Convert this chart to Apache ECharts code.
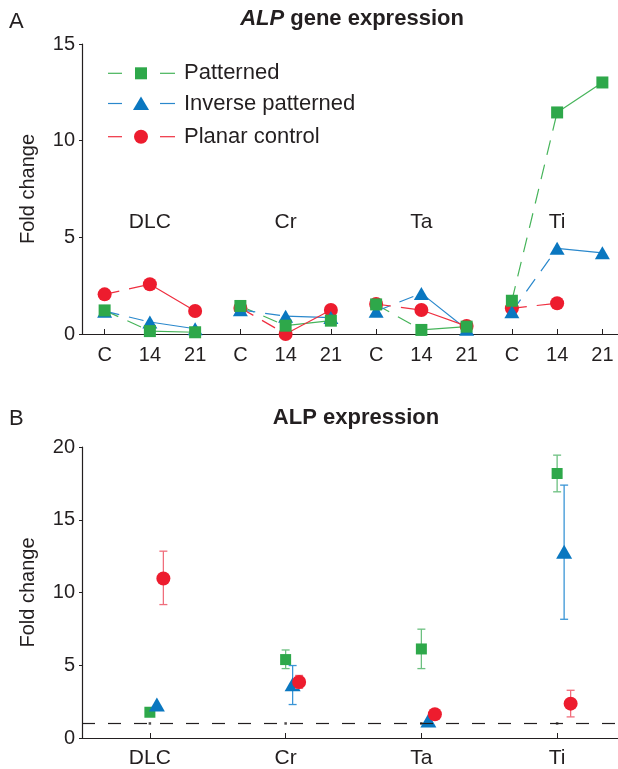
<!DOCTYPE html>
<html><head><meta charset="utf-8">
<script src="https://cdn.jsdelivr.net/npm/echarts@6/dist/echarts.min.js"></script>
<style>html,body{margin:0;padding:0;background:#fff}#c{width:618px;height:769px}</style>
</head><body><div id="c"></div>
<script>
// ---------- data ----------
const metals = ['DLC', 'Cr', 'Ta', 'Ti'];
const days = ['C', '14', '21'];
const seriesNames = ['Patterned', 'Inverse patterned', 'Planar control'];
const yTicksA = [0, 5, 10, 15];
const yTicksB = [0, 5, 10, 15, 20];

// Panel A: ALP gene expression (fold change), order DLC C/14/21, Cr C/14/21, Ta ..., Ti ...
const patternedA = [1.22, 0.15, 0.09, 1.45, 0.43, 0.69, 1.53, 0.21, 0.38, 1.72, 11.46, 13.01];
const inverseA   = [1.18, 0.62, 0.27, 1.25, 0.92, 0.85, 1.18, 2.10, 0.25, 1.15, 4.43, 4.20];
const planarA    = [2.05, 2.57, 1.19, 1.35, 0.00, 1.24, 1.55, 1.24, 0.41, 1.33, 1.59, null];

// Panel B: ALP expression (fold change) with error bars
const patternedB    = [1.77, 5.39, 6.12, 18.18];
const patternedBLow = [null, 4.77, 4.77, 16.92];
const patternedBHigh= [null, 6.05, 7.48, 19.44];
const inverseB      = [2.30, 3.70, 1.20, 12.80];
const inverseBLow   = [null, 2.30, null, 8.16];
const inverseBHigh  = [null, 4.98, null, 17.38];
const planarB       = [10.96, 3.85, 1.63, 2.36];
const planarBLow    = [9.17, 3.42, null, 1.45];
const planarBHigh   = [12.84, 4.30, null, 3.28];
const refLevel = 1;

// ---------- styles ----------
const FONT = "'Liberation Sans', Arial, Helvetica, sans-serif";
const TXT = '#231f20';
const markColors = ['#2ea84a', '#0a77c0', '#ed1c2e'];
const lineColors = ['#46b45a', '#2a88cc', '#ef2f40'];
const errColors  = ['#6cc080', '#3a95d6', '#f06e7c'];
const symbolsA = ['rect', 'triangle', 'circle'];
const sizesA = [12, [15, 13], 14];
const sizesB = [11, [16, 14], 14];
const offsetsB = [0, 7, 13.5];
const zA = [5, 4, 3];
const zB = [3, 4, 5];
const groupLabelLevel = 5.8;

const catsA = [];
metals.forEach(m => days.forEach(d => catsA.push(m + '|' + d)));

const valsA = [patternedA, inverseA, planarA];
const valsB = [patternedB, inverseB, planarB];
const lowB = [patternedBLow, inverseBLow, planarBLow];
const highB = [patternedBHigh, inverseBHigh, planarBHigh];

const series = [];
// Panel A lines and markers
valsA.forEach((vals, k) => {
  series.push({
    type: 'line', xAxisIndex: 0, yAxisIndex: 0, silent: true, symbol: 'none', z: 2,
    data: vals.map((v, i) => i % 3 === 2 ? null : v),
    lineStyle: { color: lineColors[k], width: 1.2, type: [15, 10] }
  });
  series.push({
    type: 'line', xAxisIndex: 0, yAxisIndex: 0, silent: true, symbol: 'none', z: 2,
    data: vals.map((v, i) => i % 3 === 0 ? null : v),
    lineStyle: { color: lineColors[k], width: 1.2 }
  });
  series.push({
    type: 'scatter', name: seriesNames[k], xAxisIndex: 0, yAxisIndex: 0, z: zA[k],
    data: vals.map((v, i) => v == null ? null : [i, v]).filter(d => d),
    symbol: symbolsA[k], symbolSize: sizesA[k],
    itemStyle: { color: markColors[k], opacity: 1 }
  });
});
// group labels in panel A
series.push({
  type: 'scatter', xAxisIndex: 0, yAxisIndex: 0, silent: true, symbolSize: 0, z: 6,
  itemStyle: { color: TXT, opacity: 1 },
  data: metals.map((m, i) => ({ value: [i * 3 + 1, groupLabelLevel], name: m })),
  label: { show: true, position: 'inside', formatter: p => p.name, color: TXT, opacity: 1,
    fontSize: 21, fontFamily: FONT, textBorderWidth: 0 }
});

// Panel B error bars + markers
function errRender(offset, color) {
  return function (params, api) {
    const x = api.value(0);
    const lo = api.coord([x, api.value(1)]);
    const hi = api.coord([x, api.value(2)]);
    const px = lo[0] + offset, w = 4;
    const st = { stroke: color, lineWidth: 1.3 };
    return { type: 'group', children: [
      { type: 'line', shape: { x1: px, y1: lo[1], x2: px, y2: hi[1] }, style: st },
      { type: 'line', shape: { x1: px - w, y1: hi[1], x2: px + w, y2: hi[1] }, style: st },
      { type: 'line', shape: { x1: px - w, y1: lo[1], x2: px + w, y2: lo[1] }, style: st }
    ]};
  };
}
valsB.forEach((vals, k) => {
  const ed = [];
  vals.forEach((v, i) => { if (lowB[k][i] != null) ed.push([i, lowB[k][i], highB[k][i]]); });
  series.push({
    type: 'custom', xAxisIndex: 1, yAxisIndex: 1, silent: true, z: zB[k] - 0.5,
    renderItem: errRender(offsetsB[k], errColors[k]),
    encode: { x: 0, y: [1, 2] }, data: ed
  });
  series.push({
    type: 'scatter', name: seriesNames[k] + ' ', xAxisIndex: 1, yAxisIndex: 1, z: zB[k],
    data: vals.map((v, i) => [i, v]),
    symbol: symbolsA[k], symbolSize: sizesB[k], symbolOffset: [offsetsB[k], 0],
    itemStyle: { color: markColors[k], opacity: 1 }
  });
});
// reference line at fold change = 1
series.push({
  type: 'scatter', xAxisIndex: 1, yAxisIndex: 1, silent: true, z: 1,
  data: metals.map((m, i) => [i, refLevel]), symbol: 'rect', symbolSize: 2.5,
  itemStyle: { color: TXT },
  markLine: { silent: true, symbol: ['none', 'none'], label: { show: false },
    lineStyle: { color: TXT, width: 1.2, type: [13, 13] }, data: [{ yAxis: refLevel }] }
});

// ---------- graphics: titles, panel letters, legend ----------
const graphic = [
  { type: 'text', x: 9, y: 22, style: { text: 'A', font: '22px ' + FONT, fill: TXT, verticalAlign: 'middle' } },
  { type: 'text', x: 9, y: 419, style: { text: 'B', font: '22px ' + FONT, fill: TXT, verticalAlign: 'middle' } },
  { type: 'text', x: 352, y: 19, style: { text: '{i|ALP} gene expression', align: 'center', verticalAlign: 'middle',
      font: 'bold 22px ' + FONT, fill: TXT, rich: { i: { fontStyle: 'italic', fontWeight: 'bold', fontSize: 22, fontFamily: FONT, fill: TXT } } } },
  { type: 'text', x: 356, y: 418, style: { text: 'ALP expression', align: 'center', verticalAlign: 'middle',
      font: 'bold 22px ' + FONT, fill: TXT } }
];
const legY = [73.3, 103.5, 136.7];
seriesNames.forEach((n, k) => {
  const y = legY[k];
  graphic.push({ type: 'line', shape: { x1: 108, y1: y, x2: 122, y2: y }, style: { stroke: lineColors[k], lineWidth: 1.2 } });
  graphic.push({ type: 'line', shape: { x1: 160, y1: y, x2: 175, y2: y }, style: { stroke: lineColors[k], lineWidth: 1.2 } });
  if (k === 0) graphic.push({ type: 'rect', shape: { x: 135, y: y - 6, width: 12, height: 12 }, style: { fill: markColors[k] } });
  if (k === 1) graphic.push({ type: 'polygon', shape: { points: [[141, y - 7], [149, y + 6.5], [133, y + 6.5]] }, style: { fill: markColors[k] } });
  if (k === 2) graphic.push({ type: 'circle', shape: { cx: 141, cy: y, r: 7 }, style: { fill: markColors[k] } });
  graphic.push({ type: 'text', x: 184, y: y, style: { text: n, font: '22px ' + FONT, fill: TXT, verticalAlign: 'middle' } });
});

const axisLine = { show: true, lineStyle: { color: TXT, width: 1.2 } };
const yLabel = { color: TXT, fontSize: 20, fontFamily: FONT, margin: 7 };

const option = {
  animation: false,
  backgroundColor: '#fff',
  textStyle: { fontFamily: FONT },
  grid: [
    { left: 82, width: 543, top: 44, height: 290, outerBoundsMode: 'none', containLabel: false },
    { left: 82, width: 543, top: 447, height: 291, outerBoundsMode: 'none', containLabel: false }
  ],
  xAxis: [
    { type: 'category', gridIndex: 0, data: catsA, boundaryGap: true,
      axisLine, axisTick: { show: true, inside: true, length: 5, alignWithLabel: true, lineStyle: { color: TXT } },
      axisLabel: { color: TXT, fontSize: 20, fontFamily: FONT, margin: 11, interval: 0, formatter: v => v.split('|')[1] },
      splitLine: { show: false } },
    { type: 'category', gridIndex: 1, data: metals, boundaryGap: true,
      axisLine, axisTick: { show: true, inside: true, length: 5, alignWithLabel: true, lineStyle: { color: TXT } },
      axisLabel: { color: TXT, fontSize: 21, fontFamily: FONT, margin: 10, interval: 0 },
      splitLine: { show: false } }
  ],
  yAxis: [
    { type: 'value', gridIndex: 0, min: yTicksA[0], max: yTicksA[yTicksA.length - 1], interval: 5,
      name: 'Fold change', nameLocation: 'middle', nameGap: 44, nameRotate: 90,
      nameTextStyle: { color: TXT, fontSize: 20, fontFamily: FONT },
      axisLine, axisTick: { show: true, length: 3, lineStyle: { color: TXT } },
      axisLabel: yLabel, splitLine: { show: false } },
    { type: 'value', gridIndex: 1, min: yTicksB[0], max: yTicksB[yTicksB.length - 1], interval: 5,
      name: 'Fold change', nameLocation: 'middle', nameGap: 44, nameRotate: 90,
      nameTextStyle: { color: TXT, fontSize: 20, fontFamily: FONT },
      axisLine, axisTick: { show: true, length: 3, lineStyle: { color: TXT } },
      axisLabel: yLabel, splitLine: { show: false } }
  ],
  graphic,
  series
};
const chart = echarts.init(document.getElementById('c'), null, { renderer: 'canvas' });
chart.setOption(option);
</script>
</body></html>
